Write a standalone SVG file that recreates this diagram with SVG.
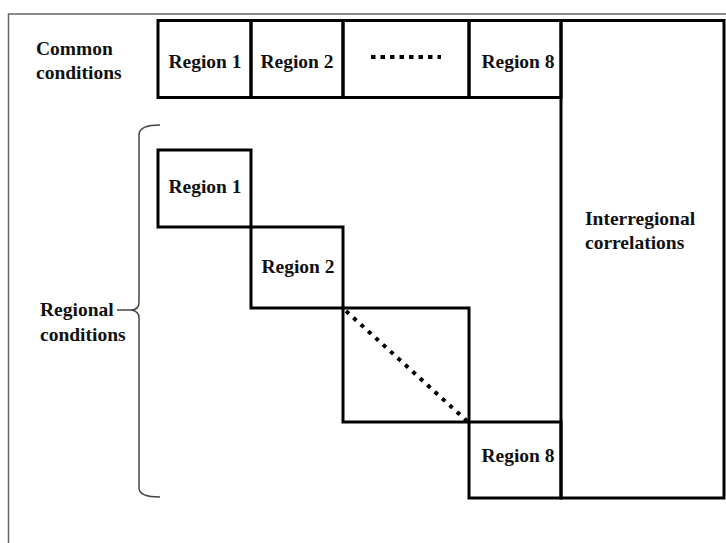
<svg xmlns="http://www.w3.org/2000/svg" width="726" height="543" viewBox="0 0 726 543">
<style>
.box{fill:none;stroke:#000;stroke-width:3;stroke-linejoin:miter}
.t{font-family:"Liberation Serif","Times New Roman",serif;font-weight:bold;font-size:19.5px;fill:#111}
.m{text-anchor:middle}
.dots{stroke:#000;stroke-width:4;fill:none}
.brace{fill:none;stroke:#444;stroke-width:1.5}
</style>
<rect x="0" y="0" width="726" height="543" fill="#fff"/>
<rect x="8.5" y="14" width="800" height="600" fill="none" stroke="#666" stroke-width="1.5"/>

<g id="common-label">
<text class="t" x="36" y="55">Common</text>
<text class="t" x="36" y="79">conditions</text>
</g>

<g id="top-region1"><rect class="box" x="158" y="20.5" width="93" height="77"/><text class="t m" x="205" y="68">Region 1</text></g>
<g id="top-region2"><rect class="box" x="251" y="20.5" width="92" height="77"/><text class="t m" x="297" y="68">Region 2</text></g>
<g id="top-dots"><rect class="box" x="343" y="20.5" width="126" height="77"/><line class="dots" x1="371" y1="57" x2="441" y2="57" stroke-dasharray="4.5 5"/></g>
<g id="top-region8"><rect class="box" x="469" y="20.5" width="92" height="77"/><text class="t m" x="518" y="68">Region 8</text></g>

<g id="interregional"><rect class="box" x="561" y="20.5" width="163" height="477.5"/>
<text class="t" x="585" y="225">Interregional</text>
<text class="t" x="585" y="249">correlations</text></g>

<g id="diag-region1"><rect class="box" x="158" y="150" width="93" height="77"/><text class="t m" x="205" y="193">Region 1</text></g>
<g id="diag-region2"><rect class="box" x="251" y="227" width="92" height="81"/><text class="t m" x="298" y="273">Region 2</text></g>
<g id="diag-dots"><rect class="box" x="343" y="308" width="126" height="114"/><line class="dots" x1="346" y1="311" x2="467" y2="421" stroke-dasharray="4 6"/></g>
<g id="diag-region8"><rect class="box" x="469" y="422" width="92" height="76"/><text class="t m" x="518" y="462">Region 8</text></g>

<g id="regional-label">
<text class="t" x="40" y="316">Regional</text>
<text class="t" x="40" y="341">conditions</text>
<path class="brace" d="M160,125 Q140,125 139,134 L139,302 Q139,310 131,310 L117,310 M131,310 Q139,311 139,318 L139,488 Q139,497 160,497"/>
</g>
</svg>
